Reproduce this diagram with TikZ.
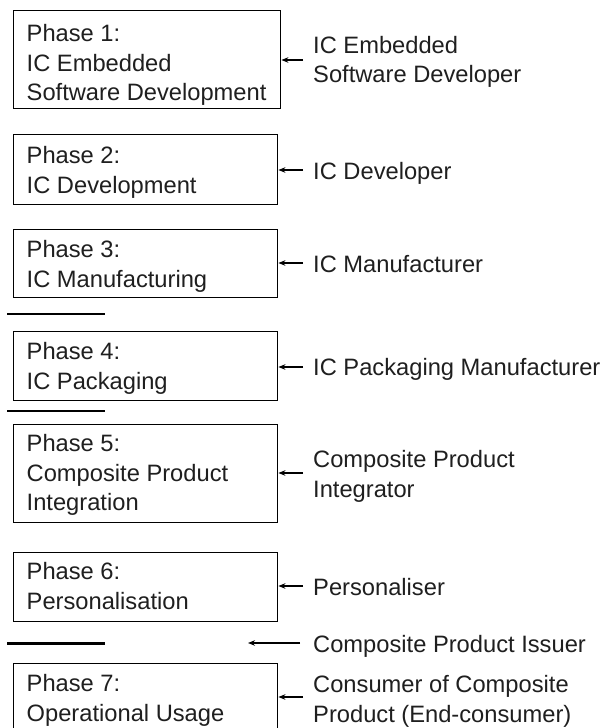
\documentclass[tikz,border=0pt]{standalone}
\usepackage{fontspec}
\setmainfont{Liberation Sans}
\usetikzlibrary{arrows.meta}
\begin{document}
\begin{tikzpicture}[x=1pt,y=-1pt,
  phasebox/.style={draw, line width=1.4pt, inner sep=0pt, anchor=north west, minimum height=#1},
  wide/.style={minimum width=267pt},
  normal/.style={minimum width=264pt},
  txt/.style={anchor=north west, inner sep=0pt, align=left, text=black!88, font=\fontsize{23.7}{29.5}\selectfont},
  arr/.style={-{Stealth[length=7pt,width=5.5pt]}, line width=1.3pt},
  sep/.style={line width=1.5pt},
  thicksep/.style={line width=3pt}]
\useasboundingbox (0,0) rectangle (606,728);
\fill[white] (0,0) rectangle (606,728);

% boxes
\node[phasebox=98pt, wide] (b1) at (13,10) {};
\node[phasebox=70pt, normal] (b2) at (13,134) {};
\node[phasebox=68pt, normal] (b3) at (13,229) {};
\node[phasebox=69pt, normal] (b4) at (13,331) {};
\node[phasebox=98pt, normal] (b5) at (13,424) {};
\node[phasebox=69pt, normal] (b6) at (13,552) {};
\node[phasebox=69pt, normal] (b7) at (13,663) {};

% box texts
\node[txt] (t1) at (26.5,24.5) {Phase 1:\\IC Embedded\\Software Development};
\node[txt] (t2) at (26.5,146.5) {Phase 2:\\IC Development};
\node[txt] (t3) at (26.5,240.5) {Phase 3:\\IC Manufacturing};
\node[txt] (t4) at (26.5,342.5) {Phase 4:\\IC Packaging};
\node[txt] (t5) at (26.5,434.5) {Phase 5:\\Composite Product\\Integration};
\node[txt] (t6) at (26.5,562.5) {Phase 6:\\Personalisation};
\node[txt] (t7) at (26.5,674.5) {Phase 7:\\Operational Usage};

% role texts
\node[txt] (r1) at (313,36) {IC Embedded\\Software Developer};
\node[txt] (r2) at (313,162.5) {IC Developer};
\node[txt] (r3) at (313,255.5) {IC Manufacturer};
\node[txt] (r4) at (313,358.5) {IC Packaging Manufacturer};
\node[txt] (r5) at (313,450.5) {Composite Product\\Integrator};
\node[txt] (r6) at (313,578.5) {Personaliser};
\node[txt] (r8) at (313,635.5) {Composite Product Issuer};
\node[txt] (r7) at (313,675.5) {Consumer of Composite\\Product (End-consumer)};

% arrow start points
\coordinate (a1) at (303,60);
\coordinate (a2) at (303,170);
\coordinate (a3) at (303,263);
\coordinate (a4) at (303,367);
\coordinate (a5) at (303,473);
\coordinate (a6) at (303,586);
\coordinate (a7) at (303,697);
\coordinate (a8) at (300,643);
\coordinate (issuerend) at (248,643);

\foreach \i in {1,...,7}{
  \draw[arr] (a\i) -- (b\i.east |- a\i);
}
\draw[arr] (a8) -- (issuerend);

% separators
\draw[sep] (7,314) -- (105,314);
\draw[sep] (7,411) -- (105,411);
\draw[thicksep] (7,643) -- (105,643);
\end{tikzpicture}
\end{document}
